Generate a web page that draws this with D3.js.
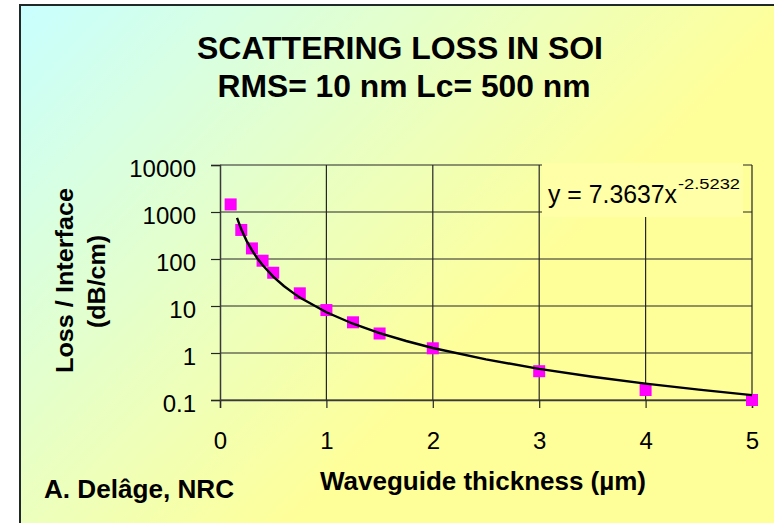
<!DOCTYPE html>
<html>
<head>
<meta charset="utf-8">
<script src="https://cdn.jsdelivr.net/npm/d3@7"></script>
<style>
  html, body { margin: 0; padding: 0; background: #fff; }
  svg { display: block; font-family: "Liberation Sans", Arial, sans-serif; }
</style>
</head>
<body>
<svg id="chart"></svg>
<script>
// measured points (thickness in um, loss in dB/cm)
const thickness = [0.1, 0.2, 0.3, 0.4, 0.5, 0.75, 1, 1.25, 1.5, 2, 3, 4, 5];
const loss = [1450, 415, 168, 92, 51, 18.6, 8.2, 4.5, 2.6, 1.26, 0.41, 0.163, 0.1];

// power trendline as drawn
const trendX = [0.16, 0.2, 0.25, 0.3, 0.35, 0.4, 0.5, 0.6, 0.7, 0.75, 1, 1.25, 1.5, 1.75, 2, 2.5, 3, 3.5, 4, 4.5, 5];
const trendY = [750, 427, 243, 154, 104, 74.3, 42.3, 26.7, 18.1, 15.2, 7.36, 4.19, 2.65, 1.8, 1.28, 0.73, 0.46, 0.312, 0.223, 0.166, 0.127];

const xTicks = [0, 1, 2, 3, 4, 5];
const yTicks = [0.1, 1, 10, 100, 1000, 10000];
const yTickLabels = ['0.1', '1', '10', '100', '1000', '10000'];

const titleLines = ['SCATTERING LOSS IN SOI', 'RMS= 10 nm Lc= 500 nm'];
const yTitleLines = ['Loss / Interface', '(dB/cm)'];
const xTitle = 'Waveguide thickness (\u00b5m)';
const author = 'A. Del\u00e2ge, NRC';
const eqMain = 'y = 7.3637x';
const eqExp = '-2.5232';

const width = 774, height = 523;
const plot = {left: 220, right: 752, top: 165, bottom: 400};

const svg = d3.select('#chart')
    .attr('width', width)
    .attr('height', height);

// background gradient cyan -> yellow
const defs = svg.append('defs');
const grad = defs.append('linearGradient')
    .attr('id', 'bg')
    .attr('gradientUnits', 'userSpaceOnUse')
    .attr('x1', 20).attr('y1', 5)
    .attr('x2', 420).attr('y2', 400);
grad.append('stop').attr('offset', 0).attr('stop-color', '#c8ffff');
grad.append('stop').attr('offset', 1).attr('stop-color', '#ffff99');

svg.append('rect')
    .attr('x', 20).attr('y', 5)
    .attr('width', width + 10).attr('height', height + 10)
    .attr('fill', 'url(#bg)')
    .attr('stroke', '#1f2a28')
    .attr('stroke-width', 2);

const xScale = d3.scaleLinear()
    .domain([0, 5])
    .range([plot.left, plot.right]);

const yScale = d3.scaleLog()
    .domain([0.1, 10000])
    .range([plot.bottom, plot.top]);

//gridlines
const grid = svg.append('g').attr('stroke', '#262626').attr('stroke-width', 1.2);
grid.selectAll('.hg')
    .data(yTicks)
    .enter()
    .append('line')
    .attr('x1', plot.left).attr('x2', plot.right)
    .attr('y1', d => yScale(d)).attr('y2', d => yScale(d));
grid.selectAll('.vg')
    .data(xTicks.slice(1))
    .enter()
    .append('line')
    .attr('x1', d => xScale(d)).attr('x2', d => xScale(d))
    .attr('y1', plot.top).attr('y2', plot.bottom);

//axes
const xAxis = d3.axisBottom(xScale)
    .tickValues(xTicks)
    .tickSize(8)
    .tickPadding(24)
    .tickFormat(d3.format('d'));
const yAxis = d3.axisLeft(yScale)
    .tickValues(yTicks)
    .tickSize(9)
    .tickPadding(15)
    .tickFormat((d, i) => yTickLabels[i]);

const gx = svg.append('g')
    .attr('transform', `translate(0, ${plot.bottom})`)
    .call(xAxis);
const gy = svg.append('g')
    .attr('transform', `translate(${plot.left}, 0)`)
    .call(yAxis);

[gx, gy].forEach(g => {
    g.select('.domain').attr('stroke', '#3a3a3a').attr('stroke-width', 1.5);
    g.selectAll('.tick line').attr('stroke', '#262626').attr('stroke-width', 1.2);
    g.selectAll('.tick text')
        .attr('fill', '#000')
        .style('font-size', '24px')
        .style('font-family', '"Liberation Sans", Arial, sans-serif');
});
gx.selectAll('.tick text').attr('dy', '0.71em');
gy.selectAll('.tick text').attr('dy', '0.48em');

//equation label box
svg.append('rect')
    .attr('x', 542).attr('y', 163)
    .attr('width', 201).attr('height', 54)
    .attr('fill', '#ffffa8');

svg.append('text')
    .attr('x', 548).attr('y', 203)
    .attr('font-size', 25)
    .attr('textLength', 129)
    .attr('lengthAdjust', 'spacingAndGlyphs')
    .text(eqMain);
svg.append('text')
    .attr('x', 678).attr('y', 189)
    .attr('font-size', 15)
    .attr('textLength', 62)
    .attr('lengthAdjust', 'spacingAndGlyphs')
    .text(eqExp);

//data points
const size = 12;
svg.append('g')
    .selectAll('rect')
    .data(thickness)
    .enter()
    .append('rect')
    .attr('x', (d, i) => xScale(d) - size / 2)
    .attr('y', (d, i) => yScale(loss[i]) - size / 2)
    .attr('width', size)
    .attr('height', size)
    .attr('fill', '#ff00ff');

//trendline
const line = d3.line()
    .x(d => xScale(d[0]))
    .y(d => yScale(d[1]));
svg.append('path')
    .datum(trendX.map((x, i) => [x, trendY[i]]))
    .attr('d', line)
    .attr('fill', 'none')
    .attr('stroke', '#000')
    .attr('stroke-width', 2.4);

//titles
const titleBase = [59, 97], titleX = [400, 404], titleLen = [406, 373];
titleLines.forEach((t, i) => {
    svg.append('text')
        .attr('x', titleX[i]).attr('y', titleBase[i])
        .attr('text-anchor', 'middle')
        .attr('font-size', 31)
        .attr('font-weight', 'bold')
        .attr('textLength', titleLen[i])
        .attr('lengthAdjust', 'spacingAndGlyphs')
        .text(t);
});

const yTitleX = [73, 105], yTitleLen = [185, 93], yTitleY = [280.5, 281.5];
yTitleLines.forEach((t, i) => {
    svg.append('text')
        .attr('transform', `translate(${yTitleX[i]}, ${yTitleY[i]}) rotate(-90)`)
        .attr('text-anchor', 'middle')
        .attr('font-size', 24)
        .attr('font-weight', 'bold')
        .attr('textLength', yTitleLen[i])
        .attr('lengthAdjust', 'spacingAndGlyphs')
        .text(t);
});

svg.append('text')
    .attr('x', 483).attr('y', 490)
    .attr('text-anchor', 'middle')
    .attr('font-size', 25)
    .attr('font-weight', 'bold')
    .attr('textLength', 326)
    .attr('lengthAdjust', 'spacingAndGlyphs')
    .text(xTitle);

svg.append('text')
    .attr('x', 44).attr('y', 498)
    .attr('font-size', 25)
    .attr('font-weight', 'bold')
    .attr('textLength', 190)
    .attr('lengthAdjust', 'spacingAndGlyphs')
    .text(author);
</script>
</body>
</html>
